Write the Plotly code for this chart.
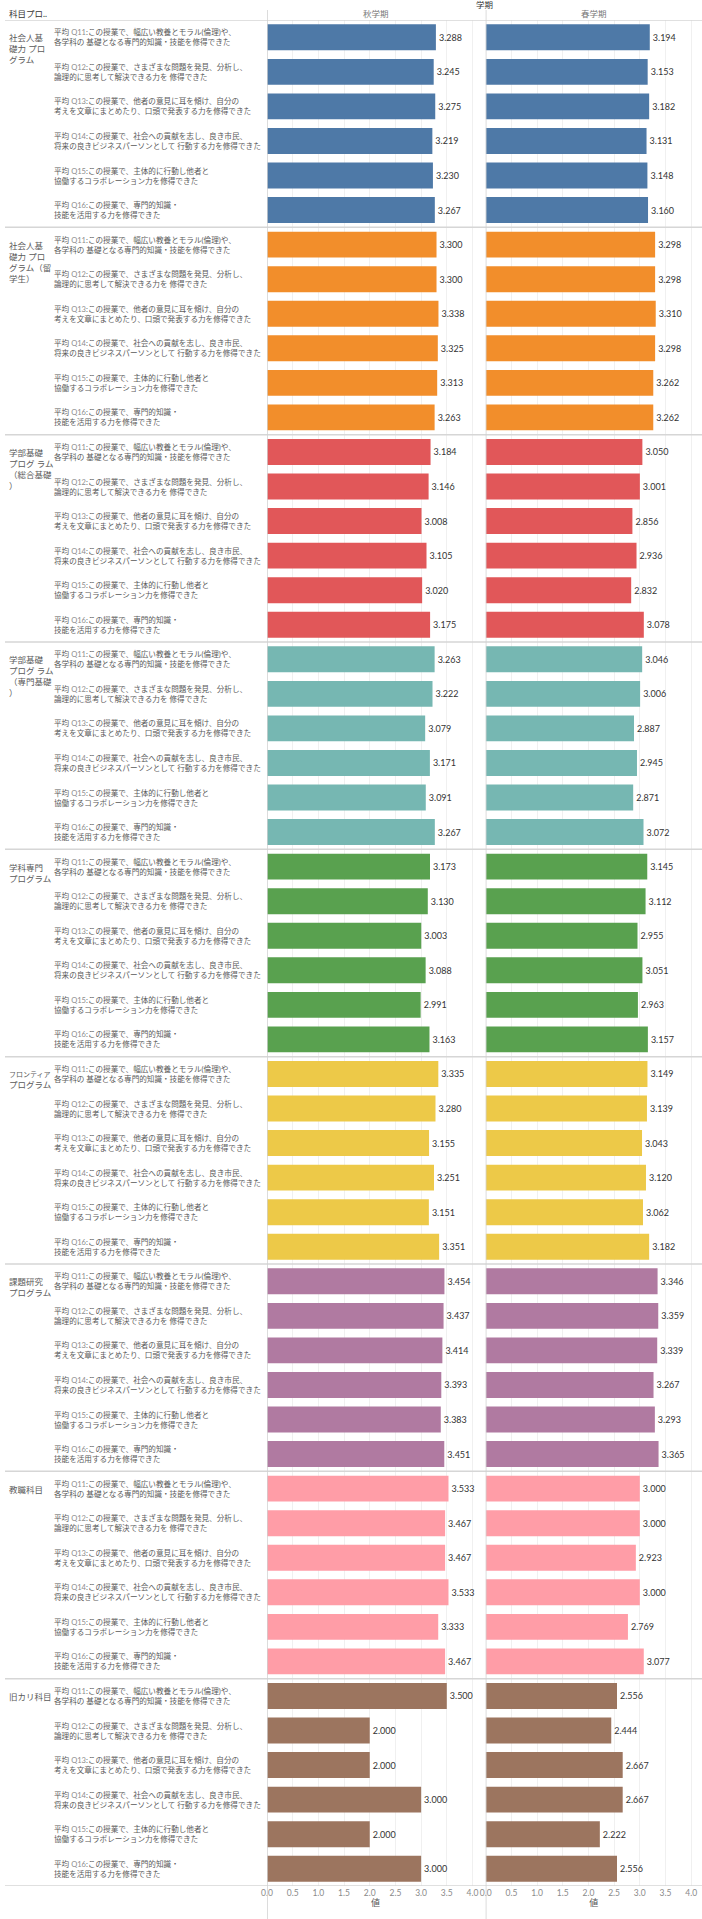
import plotly.graph_objects as go
from plotly.subplots import make_subplots

# ---------------- data ----------------
group_names = [
    "社会人基礎力 プログラム",
    "社会人基礎力 プログラム（留学生）",
    "学部基礎プログ ラム（総合基礎）",
    "学部基礎プログ ラム（専門基礎）",
    "学科専門プログラム",
    "フロンティアプログラム",
    "課題研究プログラム",
    "教職科目",
    "旧カリ科目",
]
group_labels = [
    "社会人基<br>礎力 プロ<br>グラム",
    "社会人基<br>礎力 プロ<br>グラム（留<br>学生）",
    "学部基礎<br>プログ ラム<br>（総合基礎<br>）",
    "学部基礎<br>プログ ラム<br>（専門基礎<br>）",
    "学科専門<br>プログラム",
    "<span style='font-size:7px'>フロンティア</span><br>プログラム",
    "課題研究<br>プログラム",
    "教職科目",
    "旧カリ科目",
]
questions = ["Q11", "Q12", "Q13", "Q14", "Q15", "Q16"]
question_line1 = [
    "この授業で、幅広い教養とモラル(倫理)や、",
    "この授業で、さまざまな問題を発見、分析し、",
    "この授業で、他者の意見に耳を傾け、自分の",
    "この授業で、社会への貢献を志し、良き市民、",
    "この授業で、主体的に行動し他者と",
    "この授業で、専門的知識・",
]
question_line2 = [
    "各学科の 基礎となる専門的知識・技能を修得できた",
    "論理的に思考して解決できる力を 修得できた",
    "考えを文章にまとめたり、口頭で発表する力を修得できた",
    "将来の良きビジネスパーソンとして 行動する力を修得できた",
    "協働するコラボレーション力を修得できた",
    "技能を活用する力を修得できた",
]
terms = ["秋学期", "春学期"]

autumn_values = [
    [3.288, 3.245, 3.275, 3.219, 3.230, 3.267],
    [3.300, 3.300, 3.338, 3.325, 3.313, 3.263],
    [3.184, 3.146, 3.008, 3.105, 3.020, 3.175],
    [3.263, 3.222, 3.079, 3.171, 3.091, 3.267],
    [3.173, 3.130, 3.003, 3.088, 2.991, 3.163],
    [3.335, 3.280, 3.155, 3.251, 3.151, 3.351],
    [3.454, 3.437, 3.414, 3.393, 3.383, 3.451],
    [3.533, 3.467, 3.467, 3.533, 3.333, 3.467],
    [3.500, 2.000, 2.000, 3.000, 2.000, 3.000],
]
spring_values = [
    [3.194, 3.153, 3.182, 3.131, 3.148, 3.160],
    [3.298, 3.298, 3.310, 3.298, 3.262, 3.262],
    [3.050, 3.001, 2.856, 2.936, 2.832, 3.078],
    [3.046, 3.006, 2.887, 2.945, 2.871, 3.072],
    [3.145, 3.112, 2.955, 3.051, 2.963, 3.157],
    [3.149, 3.139, 3.043, 3.120, 3.062, 3.182],
    [3.346, 3.359, 3.339, 3.267, 3.293, 3.365],
    [3.000, 3.000, 2.923, 3.000, 2.769, 3.077],
    [2.556, 2.444, 2.667, 2.667, 2.222, 2.556],
]
group_colors = ["#4E79A7", "#F28E2B", "#E15759", "#76B7B2", "#59A14F",
                "#EDC948", "#B07AA1", "#FF9DA7", "#9C755F"]

# ---------------- geometry (pixels) ----------------
W, H = 702, 1919
PL, PT, PB = 267, 20, 1886          # plot area left / top / bottom in px
PW, PH = W - PL, PB - PT
PANEL1_END = 484
PANEL2_START = 485.7
PX_PER_UNIT = 51.37


def px_x(px):
    return (px - PL) / PW


def px_y(py):
    return (PB - py) / PH


FONT = "Lato, 'Noto Sans CJK JP', sans-serif"

fig = make_subplots(rows=1, cols=2, shared_yaxes=True, horizontal_spacing=0)

cats = [f"{g}|{q}" for g in group_names for q in questions]

for gi, g in enumerate(group_names):
    ys = [f"{g}|{q}" for q in questions]
    for col, vals in ((1, autumn_values[gi]), (2, spring_values[gi])):
        fig.add_trace(
            go.Bar(
                x=vals, y=ys, orientation="h", width=0.75,
                marker=dict(color=group_colors[gi], line=dict(width=0)),
                text=[f"{v:.3f}" for v in vals], textposition="outside",
                textfont=dict(family=FONT, size=9, color="#333333"),
                constraintext="none", cliponaxis=False, showlegend=False,
                hoverinfo="x+y",
            ),
            row=1, col=col,
        )

fig.update_layout(
    width=W, height=H, barmode="overlay",
    margin=dict(l=PL, r=0, t=PT, b=H - PB, pad=0, autoexpand=False),
    paper_bgcolor="white", plot_bgcolor="white",
    font=dict(family=FONT, size=9, color="#555555"),
)

fig.update_yaxes(type="category", categoryorder="array", categoryarray=cats,
                 autorange=False, range=[len(cats) - 0.5, -0.5],
                 showticklabels=False, showgrid=False, zeroline=False,
                 showline=False, ticks="", automargin=False)

ax_common = dict(tickmode="linear", tick0=0, dtick=0.5, tickformat=".1f",
                 showgrid=True, gridcolor="#f0f0f0", gridwidth=1,
                 zeroline=False, showline=False, ticks="", automargin=False,
                 tickfont=dict(family=FONT, size=8.5, color="#8a8a8a"),
                 title=dict(text="値", font=dict(family=FONT, size=9, color="#555555"),
                            standoff=2))
fig.update_xaxes(domain=[0, px_x(PANEL1_END)],
                 range=[0, (PANEL1_END - PL) / PX_PER_UNIT], row=1, col=1, **ax_common)
fig.update_xaxes(domain=[px_x(PANEL2_START), 1],
                 range=[0, (W - PANEL2_START) / PX_PER_UNIT], row=1, col=2, **ax_common)

annotations = []
# question labels
for gi, g in enumerate(group_names):
    for qi, q in enumerate(questions):
        txt = (f"平均 <span style='color:#8c8c8c'>{q}</span>:{question_line1[qi]}"
               f"<br>{question_line2[qi]}")
        annotations.append(dict(
            xref="paper", yref="y", x=px_x(52), y=f"{g}|{q}",
            xanchor="left", yanchor="middle", align="left", showarrow=False,
            text=txt, font=dict(family=FONT, size=7.6, color="#5a5a5a")))
    annotations.append(dict(
        xref="paper", yref="y", x=px_x(7), y=f"{g}|{questions[0]}",
        xanchor="left", yanchor="top", align="left", showarrow=False, yshift=6,
        text=group_labels[gi], font=dict(family=FONT, size=8.5, color="#5a5a5a")))

# headers
annotations += [
    dict(xref="paper", yref="paper", x=px_x(7), y=px_y(14), xanchor="left",
         yanchor="middle", showarrow=False, text="科目プロ..",
         font=dict(family=FONT, size=8.5, color="#333333")),
    dict(xref="paper", yref="paper", x=px_x(484.5), y=px_y(5), xanchor="center",
         yanchor="middle", showarrow=False, text="学期",
         font=dict(family=FONT, size=8.5, color="#333333")),
    dict(xref="paper", yref="paper", x=px_x((PL + PANEL1_END) / 2), y=px_y(14),
         xanchor="center", yanchor="middle", showarrow=False, text=terms[0],
         font=dict(family=FONT, size=8.5, color="#777777")),
    dict(xref="paper", yref="paper", x=px_x((PANEL2_START + W) / 2), y=px_y(14),
         xanchor="center", yanchor="middle", showarrow=False, text=terms[1],
         font=dict(family=FONT, size=8.5, color="#777777")),
]
fig.update_layout(annotations=annotations)

shapes = []
# horizontal separators (header line, group boundaries, bottom line)
for b in range(len(group_names) + 1):
    yv = b * len(questions) - 0.5
    shapes.append(dict(type="line", xref="paper", yref="y", x0=px_x(5), x1=1,
                       y0=yv, y1=yv, line=dict(color="#d6d6d6", width=1.5)))
# vertical panel lines
for xr in ("x", "x2"):
    shapes.append(dict(type="line", xref=xr, yref="paper", x0=0, x1=0,
                       y0=px_y(H), y1=px_y(10), line=dict(color="#d0d0d0", width=1.5)))
fig.update_layout(shapes=shapes)

fig.write_html(
    "out.html",
    config={"displayModeBar": False},
    post_script="document.body.style.margin='0';document.body.style.padding='0';"
                "document.body.style.overflow='hidden';",
)
